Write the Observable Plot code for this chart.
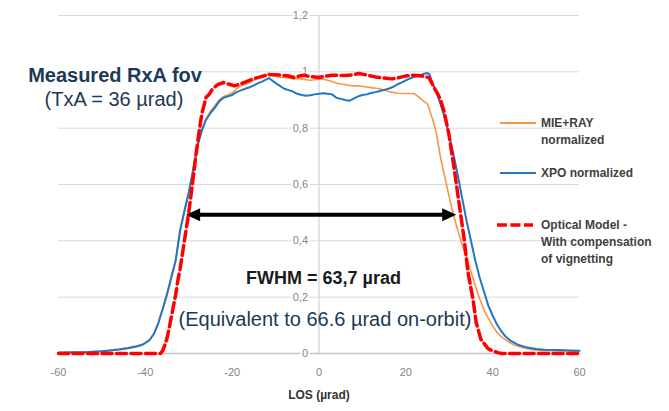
<!DOCTYPE html>
<html><head><meta charset="utf-8">
<script src="https://cdn.jsdelivr.net/npm/d3@7"></script>
<script src="https://cdn.jsdelivr.net/npm/@observablehq/plot@0.6"></script>
<style>
body{margin:0;background:#fff;}
#wrap{position:relative;width:669px;height:411px;font-family:"Liberation Sans",Arial,sans-serif;overflow:hidden;}
#wrap svg{display:block;}
.t{position:absolute;white-space:nowrap;transform:translate(-50%,-50%);line-height:1;}
.lg{position:absolute;white-space:nowrap;font-size:12px;font-weight:bold;color:#404040;line-height:1;transform:translateY(-50%);}
.sw{position:absolute;}
</style></head><body><div id="wrap"></div>
<script>
// ---- data ----
const losTicks = [-60, -40, -20, 0, 20, 40, 60];
const yTicks = [0, 0.2, 0.4, 0.6, 0.8, 1, 1.2];
const yTickLabels = ["0", "0,2", "0,4", "0,6", "0,8", "1", "1,2"];
const xLabel = "LOS (µrad)";
const seriesColors = ["#f79646", "#2176c7", "#ff0000"];
const legendLabels = [["MIE+RAY", "normalized"], ["XPO normalized"], ["Optical Model -", "With compensation", "of vignetting"]];
const titleLines = ["Measured RxA fov", "(TxA = 36 µrad)"];
const fwhmText = "FWHM = 63,7 µrad";
const noteText = "(Equivalent to 66.6 µrad on-orbit)";
const fwhmEnds = [-30.6, 31.6];
const fwhmLevel = 0.493;

const mieLos = [-60,-56,-53,-50,-48,-46,-44,-42,-40.5,-39,
  -38,-37,-36,-35,-34,-33,-32,-31,-30,-29,-28,-27,-26,-25,-24,-23,-22,-21,-20,-19,-18,-17,-16,-15,-14,-13,-12,
  -11.5,-11,-10,-9,-8,-7,-6,-5,-4,-3,-2,-1,
  0,1,2,3,4,5,6,7,8,9,10,11,12,13,14,15,16,17,18,19,20,21,22,23,24,25,26,27,28,29,30,31,32,33,34,35,36,37,38,39,40,41,42,43,44,45,46,
  48,50,53,56,60];
const mieValues = [0.004,0.005,0.006,0.009,0.012,0.016,0.021,0.027,0.034,0.05,
  0.072,0.11,0.16,0.215,0.275,0.335,0.44,0.51,0.575,0.655,0.74,0.795,0.835,0.86,0.88,0.9,0.912,0.918,0.925,0.94,0.95,0.955,0.962,0.97,0.978,0.985,0.99,
  0.996,0.99,0.985,0.98,0.98,0.978,0.976,0.976,0.975,0.972,0.97,0.972,
  0.975,0.974,0.97,0.966,0.96,0.957,0.955,0.952,0.95,0.95,0.948,0.946,0.944,0.942,0.94,0.935,0.93,0.927,0.924,0.923,0.923,0.923,0.922,0.91,0.897,0.885,0.84,0.785,0.695,0.625,0.555,0.49,0.435,0.385,0.34,0.29,0.24,0.195,0.155,0.125,0.098,0.075,0.06,0.048,0.038,0.03,0.025,
  0.017,0.012,0.01,0.009,0.008];

const xpoLos = [-60,-56,-53,-50,-48,-46,-44,-42,-40.5,-39,
  -38,-37,-36,-35,-34,-33,-32,-31,-30,-29,-28,-27,-26,-25,-24,-23,-22,-21,-20,-19,-18,-17,-16,-15,-14,-13,-12,
  -11.5,-11,-10,-9,-8,-7,-6,-5,-4,-3,-2,-1,
  0,1,2,3,4,5,6,7,8,9,10,11,12,13,14,15,16,17,18,19,20,21,22,23,24,25,25.5,
  26,27,28,29,30,31,32,33,34,35,36,37,38,39,40,41,42,43,44,
  46,48,50,52,55,58,60];
const xpoValues = [0.003,0.004,0.005,0.008,0.011,0.014,0.019,0.025,0.032,0.048,
  0.07,0.108,0.158,0.21,0.27,0.33,0.435,0.505,0.57,0.65,0.735,0.79,0.83,0.853,0.872,0.895,0.908,0.913,0.918,0.928,0.934,0.94,0.945,0.952,0.96,0.966,0.974,
  0.978,0.972,0.96,0.95,0.94,0.935,0.93,0.922,0.918,0.915,0.917,0.92,
  0.922,0.924,0.922,0.92,0.908,0.904,0.9,0.897,0.905,0.913,0.918,0.92,0.925,0.928,0.932,0.936,0.94,0.946,0.955,0.962,0.97,0.977,0.982,0.987,0.992,0.996,0.99,
  0.965,0.93,0.885,0.835,0.775,0.705,0.63,0.55,0.47,0.4,0.33,0.27,0.22,0.17,0.135,0.103,0.079,0.06,0.047,
  0.03,0.021,0.016,0.013,0.012,0.011,0.01];

const modelLos = [-60,-36.5,-36,-35.5,-35,-34.5,-34,-33.5,-33,-32.5,-32,-31.5,-31,-30.5,-30,-29.5,-29,-28.3,-27.5,-27,
  -26.5,-26,-25.3,-24.5,-23.3,-22,-20.5,-19.5,-18.5,-17.3,-16,-15,-13.5,-11.7,-10,-8.8,-7,-5.8,-4.5,-3.5,
  -2,0,1.5,3,6,8,9.2,10.5,11.5,13,14,15.5,16.8,18,19.1,20.3,21.4,22.5,23.7,25.3,
  26,26.5,27.4,28,28.8,29.9,31.1,32.2,33.4,34.3,35.5,36.2,37.3,38.9,39.6,41.2,42,60];
const modelValues = [0,0,0.01,0.03,0.055,0.09,0.13,0.17,0.21,0.26,0.3,0.35,0.4,0.45,0.5,0.56,0.62,0.71,0.8,0.85,
  0.88,0.91,0.92,0.94,0.955,0.962,0.955,0.95,0.955,0.962,0.97,0.976,0.982,0.99,0.99,0.988,0.985,0.98,0.985,0.988,
  0.983,0.98,0.985,0.988,0.987,0.99,0.994,0.99,0.987,0.982,0.98,0.977,0.975,0.978,0.982,0.986,0.988,0.987,0.985,0.98,
  0.96,0.944,0.92,0.9,0.86,0.78,0.66,0.54,0.41,0.29,0.19,0.11,0.05,0.018,0.012,0.003,0,0];

// ---- build ----
const zip = (xs, ys) => xs.map((x, i) => ({los: x, v: ys[i]}));
const mie = zip(mieLos, mieValues);
const xpo = zip(xpoLos, xpoValues);
const model = zip(modelLos, modelValues);

const rightHead = {draw(ctx) { ctx.moveTo(0, 0); ctx.lineTo(-14, -6.5); ctx.lineTo(-14, 6.5); ctx.closePath(); }};
const leftHead = {draw(ctx) { ctx.moveTo(0, 0); ctx.lineTo(14, -6.5); ctx.lineTo(14, 6.5); ctx.closePath(); }};

const chart = Plot.plot({
  width: 669, height: 411,
  marginLeft: 58, marginRight: 90, marginTop: 15, marginBottom: 58,
  x: {domain: [-60, 60], axis: null},
  y: {domain: [0, 1.2], axis: null},
  style: {fontFamily: '"Liberation Sans", Arial, sans-serif', background: "white"},
  marks: [
    Plot.ruleY(yTicks.filter(d => d > 0), {stroke: "#d9d9d9", strokeWidth: 1}),
    Plot.ruleX([0], {y1: 0, y2: 1.2, stroke: "#d4d4d4", strokeWidth: 1.3}),
    Plot.ruleY([0], {stroke: "#c4c4c4", strokeWidth: 1.3}),
    Plot.text(yTicks, {x: 0, y: d => d, text: (d, i) => yTickLabels[i], dx: -11, textAnchor: "end", fontSize: 11, fill: "#858585", stroke: "white", strokeWidth: 4, paintOrder: "stroke"}),
    Plot.text(losTicks, {x: d => d, y: 0, dy: 19, text: d => String(d), fontSize: 11, fill: "#858585"}),
    Plot.text([xLabel], {x: 0, y: 0, dy: 42, text: d => d, fontSize: 12, fontWeight: "bold", fill: "#333333"}),
    Plot.line(mie, {x: "los", y: "v", stroke: seriesColors[0], strokeWidth: 1.6}),
    Plot.line(xpo, {x: "los", y: "v", stroke: seriesColors[1], strokeWidth: 2}),
    Plot.line(model, {x: "los", y: "v", stroke: seriesColors[2], strokeWidth: 3.5, strokeDasharray: "10,4.5"}),
    Plot.ruleY([fwhmLevel], {x1: fwhmEnds[0], x2: fwhmEnds[1], insetLeft: 10, insetRight: 10, stroke: "black", strokeWidth: 4}),
    Plot.dot([fwhmEnds[0]], {x: d => d, y: fwhmLevel, symbol: leftHead, fill: "black", stroke: "none"}),
    Plot.dot([fwhmEnds[1]], {x: d => d, y: fwhmLevel, symbol: rightHead, fill: "black", stroke: "none"})
  ]
});

const wrap = document.getElementById("wrap");
wrap.appendChild(chart);

function addText(txt, cx, cy, css) {
  const d = document.createElement("div");
  d.className = "t";
  d.textContent = txt;
  d.style.left = cx + "px";
  d.style.top = cy + "px";
  Object.assign(d.style, css);
  wrap.appendChild(d);
}
addText(titleLines[0], 115, 75, {fontSize: "20px", fontWeight: "bold", color: "#1b3a57", background: "white"});
addText(titleLines[1], 114, 99, {fontSize: "20px", color: "#1b3a57", background: "white"});
addText(fwhmText, 323.5, 278, {fontSize: "18px", fontWeight: "bold", color: "#1a1a1a"});
addText(noteText, 325, 319, {fontSize: "20px", color: "#1b3a57"});

// legend
const legendY = [123, 173, 225];
const lineStep = 17;
legendLabels.forEach((lines, k) => {
  const svgNS = "http://www.w3.org/2000/svg";
  const s = document.createElementNS(svgNS, "svg");
  s.setAttribute("class", "sw");
  s.setAttribute("width", 40); s.setAttribute("height", 10);
  s.style.left = (k === 2 ? 497 : 500) + "px";
  s.style.top = (legendY[k] - 5) + "px";
  const l = document.createElementNS(svgNS, "line");
  l.setAttribute("x1", 0); l.setAttribute("x2", 36);
  l.setAttribute("y1", 5); l.setAttribute("y2", 5);
  l.setAttribute("stroke", seriesColors[k]);
  l.setAttribute("stroke-width", k === 2 ? 3.5 : 2);
  if (k === 2) l.setAttribute("stroke-dasharray", "10,3.5");
  s.appendChild(l);
  wrap.appendChild(s);
  lines.forEach((t, j) => {
    const d = document.createElement("div");
    d.className = "lg";
    d.textContent = t;
    d.style.left = "541px";
    d.style.top = (legendY[k] + j * lineStep) + "px";
    wrap.appendChild(d);
  });
});
</script>
</body></html>
